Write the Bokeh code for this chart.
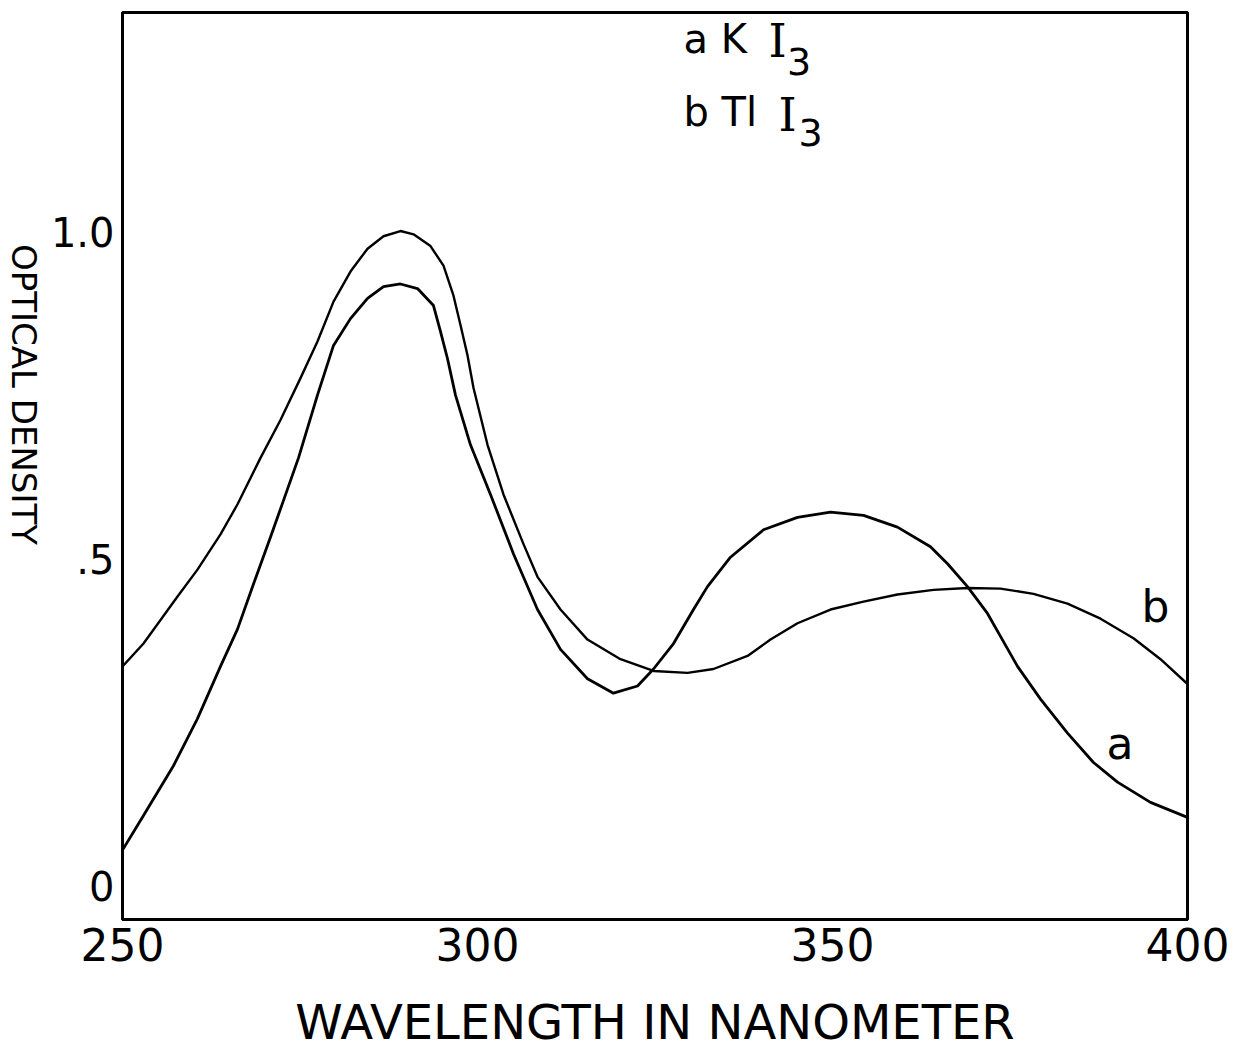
import math
from bokeh.plotting import figure
from bokeh.layouts import row
from bokeh.models import Label, Range1d, FixedTicker
from bokeh.embed import file_html
from bokeh.resources import INLINE

# ---- data (curve a = KI3, curve b = TlI3) ----
wavelength_a = [250.00, 252.96, 257.18, 260.56, 263.80, 266.20, 268.45, 270.85, 272.68, 274.79,
                277.46, 279.72, 282.11, 284.51, 286.76, 289.15, 291.55, 293.80, 294.79, 295.77,
                296.90, 299.01, 301.83, 305.07, 308.45, 311.69, 315.49, 319.15, 322.54, 324.79,
                327.61, 330.42, 332.39, 335.63, 340.28, 345.07, 349.72, 354.37, 359.15, 363.80,
                366.20, 369.01, 371.83, 373.66, 376.06, 379.30, 383.10, 386.76, 390.14, 394.79,
                400.00]
density_a = [0.055, 0.108, 0.184, 0.256, 0.336, 0.393, 0.462, 0.534, 0.590, 0.655,
             0.751, 0.827, 0.868, 0.899, 0.917, 0.921, 0.914, 0.888, 0.848, 0.807,
             0.751, 0.675, 0.599, 0.508, 0.423, 0.362, 0.317, 0.295, 0.306, 0.332,
             0.371, 0.423, 0.458, 0.503, 0.545, 0.564, 0.572, 0.567, 0.549, 0.519,
             0.493, 0.458, 0.417, 0.382, 0.336, 0.286, 0.234, 0.189, 0.159, 0.128,
             0.105]

wavelength_b = [250.00, 252.96, 257.75, 260.56, 263.80, 266.20, 269.44, 272.25, 275.07, 277.46,
                279.72, 282.11, 284.51, 286.76, 289.15, 290.99, 293.38, 295.21, 296.62, 297.61,
                298.59, 299.44, 301.41, 303.66, 306.48, 308.45, 311.69, 315.49, 320.14, 324.79,
                329.58, 333.24, 338.03, 341.27, 345.07, 349.72, 354.37, 359.15, 364.23, 369.01,
                373.66, 378.31, 383.10, 387.75, 392.39, 396.20, 400.00]
density_b = [0.336, 0.371, 0.443, 0.484, 0.538, 0.584, 0.655, 0.713, 0.777, 0.833,
             0.894, 0.940, 0.975, 0.994, 1.002, 0.997, 0.979, 0.949, 0.903, 0.858,
             0.812, 0.762, 0.675, 0.599, 0.523, 0.473, 0.423, 0.377, 0.347, 0.329,
             0.326, 0.332, 0.352, 0.377, 0.402, 0.423, 0.435, 0.446, 0.453, 0.456,
             0.455, 0.447, 0.432, 0.409, 0.379, 0.347, 0.309]

x_ticks = [250, 300, 350, 400]
y_ticks = [0, 0.5, 1]
y_tick_labels = ["0", ".5", "1.0"]

FONT = "DejaVu Sans"
W, H = 1241, 1052
STRIP = 46  # width of the strip that carries the y-axis title

# ---- strip carrying the y-axis title (reads top to bottom) ----
side = figure(width=STRIP, height=H, output_backend="svg", toolbar_location=None,
              x_range=Range1d(0, STRIP), y_range=Range1d(0, H),
              x_axis_location=None, y_axis_location=None, min_border=0)
side.grid.visible = False
side.outline_line_color = None
side.background_fill_color = "white"
side.border_fill_color = "white"
side.add_layout(Label(x=23, y=609, text="OPTICAL DENSITY", angle=-math.pi / 2,
                      text_font=FONT, text_font_size="34px", text_color="black",
                      text_align="center", text_baseline="middle"))

# ---- main chart ----
p = figure(width=W - STRIP, height=H, output_backend="svg", toolbar_location=None,
           x_range=Range1d(250, 400), y_range=Range1d(-0.0512, 1.3363),
           min_border_left=122 - STRIP, min_border_right=54, min_border_top=12,
           min_border_bottom=127)
p.grid.visible = False
p.outline_line_color = "black"
p.outline_line_width = 3
p.background_fill_color = "white"
p.border_fill_color = "white"

for ax in (p.xaxis, p.yaxis):
    ax.major_tick_line_color = None
    ax.minor_tick_line_color = None
    ax.axis_line_color = "black"
    ax.axis_line_width = 3
    ax.major_label_text_font = FONT
    ax.major_label_text_font_size = "44px"
    ax.major_label_text_color = "black"
    ax.axis_label_text_font = FONT
    ax.axis_label_text_font_style = "normal"
    ax.axis_label_text_color = "black"

p.xaxis.ticker = FixedTicker(ticks=x_ticks)
p.xaxis.major_label_standoff = 2
p.xaxis.axis_label = "WAVELENGTH IN NANOMETER"
p.xaxis.axis_label_text_font_size = "48px"
p.xaxis.axis_label_standoff = 30

p.yaxis.ticker = FixedTicker(ticks=y_ticks)
p.yaxis.major_label_overrides = dict(zip(y_ticks, y_tick_labels))
p.yaxis.major_label_text_font_size = "40px"
p.yaxis.major_label_standoff = 2

# curves
p.line(wavelength_a, density_a, line_color="black", line_width=2.8, line_join="round")
p.line(wavelength_b, density_b, line_color="black", line_width=2.4, line_join="round")

def lab(x, y, text, size, font=FONT, align="left"):
    p.add_layout(Label(x=x, y=y, text=text, text_font=font, text_font_size=size,
                       text_align=align, text_baseline="middle", text_color="black"))

# legend texts
lab(329.0, 1.296, "a K", "40px")
lab(341.0, 1.292, "I", "46px", font="DejaVu Serif")
lab(343.6, 1.262, "3", "38px")
lab(329.0, 1.184, "b Tl", "40px")
lab(342.4, 1.180, "I", "46px", font="DejaVu Serif")
lab(345.2, 1.152, "3", "38px")

# curve labels
lab(395.5, 0.427, "b", "44px", align="center")
lab(390.5, 0.218, "a", "44px", align="center")

layout = row(side, p, spacing=0)
open("out.html", "w").write(file_html(layout, INLINE))
